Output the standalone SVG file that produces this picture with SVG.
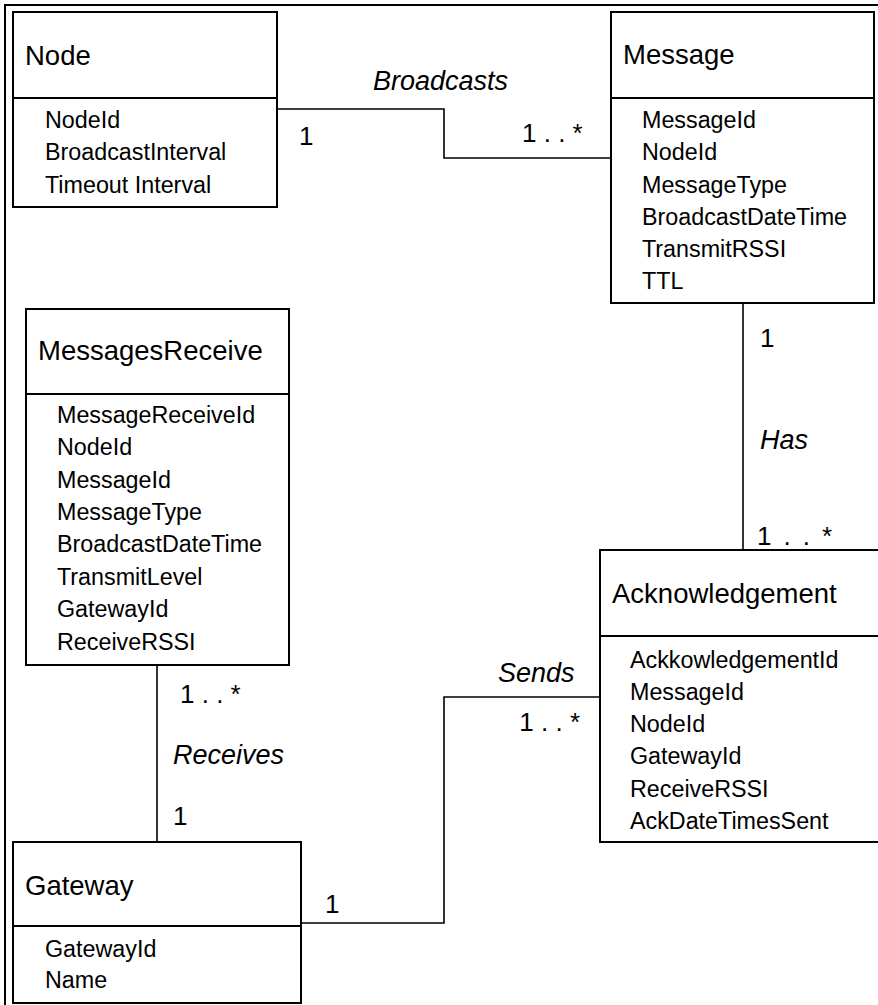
<svg xmlns="http://www.w3.org/2000/svg" width="878" height="1005" viewBox="0 0 878 1005">
  <style>
    .box { fill: #ffffff; stroke: #000000; stroke-width: 2; }
    .div { stroke: #000000; stroke-width: 2; }
    .conn { fill: none; stroke: #000000; stroke-width: 1.6; }
    .frame { fill: none; stroke: #000000; stroke-width: 2; }
    text { font-family: "Liberation Sans", Arial, sans-serif; fill: #000000; }
    .title { font-size: 27.5px; }
    .attr { font-size: 23.3px; }
    .mult { font-size: 26px; }
    .role { font-size: 27px; font-style: italic; }
  </style>
  <rect width="878" height="1005" fill="#ffffff"/>

  <!-- outer frame (top and left edges) -->
  <path class="frame" d="M5,1005 V5 H878"/>

  <!-- associations -->
  <g id="connectors">
    <polyline class="conn" points="277,109 444,109 444,158 611,158"/>
    <line class="conn" x1="743" y1="303" x2="743" y2="550"/>
    <polyline class="conn" points="600,697 444,697 444,923 301,923"/>
    <line class="conn" x1="157" y1="665" x2="157" y2="842"/>

    <text class="role" x="373" y="90">Broadcasts</text>
    <text class="mult" x="299" y="145">1</text>
    <text class="mult" x="522" y="142">1 . . *</text>

    <text class="mult" x="760" y="347">1</text>
    <text class="role" x="760" y="449">Has</text>
    <text class="mult" x="757" y="545" textLength="75">1 . . *</text>

    <text class="role" x="498" y="682">Sends</text>
    <text class="mult" x="580" y="731" text-anchor="end">1 . . *</text>
    <text class="mult" x="325" y="913">1</text>

    <text class="mult" x="180" y="703">1 . . *</text>
    <text class="role" x="173" y="764">Receives</text>
    <text class="mult" x="173" y="825">1</text>
  </g>

  <g id="node-Node">
    <rect class="box" x="13" y="12" width="264" height="195"/>
    <line class="div" x1="13" y1="98" x2="277" y2="98"/>
    <text class="title" x="25" y="65">Node</text>
    <text class="attr" x="45" y="128">NodeId</text>
    <text class="attr" x="45" y="160">BroadcastInterval</text>
    <text class="attr" x="45" y="193">Timeout Interval</text>
  </g>

  <g id="node-Message">
    <rect class="box" x="611" y="12" width="263" height="291"/>
    <line class="div" x1="611" y1="98" x2="874" y2="98"/>
    <text class="title" x="623" y="64">Message</text>
    <text class="attr" x="642" y="128">MessageId</text>
    <text class="attr" x="642" y="160">NodeId</text>
    <text class="attr" x="642" y="193">MessageType</text>
    <text class="attr" x="642" y="225">BroadcastDateTime</text>
    <text class="attr" x="642" y="257">TransmitRSSI</text>
    <text class="attr" x="642" y="289">TTL</text>
  </g>

  <g id="node-MessagesReceive">
    <rect class="box" x="26" y="309" width="263" height="356"/>
    <line class="div" x1="26" y1="394" x2="289" y2="394"/>
    <text class="title" x="38" y="360">MessagesReceive</text>
    <text class="attr" x="57" y="423">MessageReceiveId</text>
    <text class="attr" x="57" y="455">NodeId</text>
    <text class="attr" x="57" y="488">MessageId</text>
    <text class="attr" x="57" y="520">MessageType</text>
    <text class="attr" x="57" y="552">BroadcastDateTime</text>
    <text class="attr" x="57" y="585">TransmitLevel</text>
    <text class="attr" x="57" y="617">GatewayId</text>
    <text class="attr" x="57" y="650">ReceiveRSSI</text>
  </g>

  <g id="node-Acknowledgement">
    <rect class="box" x="600" y="550" width="300" height="292"/>
    <line class="div" x1="600" y1="636" x2="900" y2="636"/>
    <text class="title" x="612" y="603">Acknowledgement</text>
    <text class="attr" x="630" y="668">AckkowledgementId</text>
    <text class="attr" x="630" y="700">MessageId</text>
    <text class="attr" x="630" y="732">NodeId</text>
    <text class="attr" x="630" y="764">GatewayId</text>
    <text class="attr" x="630" y="797">ReceiveRSSI</text>
    <text class="attr" x="630" y="829">AckDateTimesSent</text>
  </g>

  <g id="node-Gateway">
    <rect class="box" x="13" y="842" width="288" height="161"/>
    <line class="div" x1="13" y1="926" x2="301" y2="926"/>
    <text class="title" x="25" y="895">Gateway</text>
    <text class="attr" x="45" y="957">GatewayId</text>
    <text class="attr" x="45" y="988">Name</text>
  </g>
</svg>
